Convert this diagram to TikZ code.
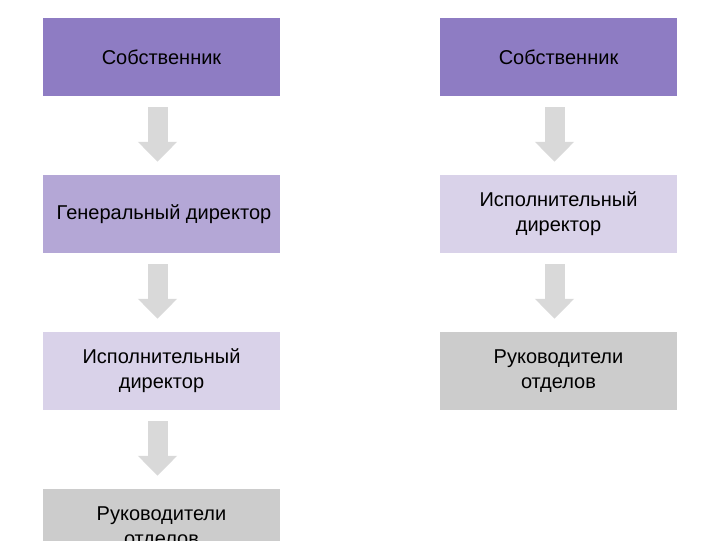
\documentclass[tikz,border=0pt]{standalone}
\usepackage{fontspec}
\setmainfont{Liberation Sans}
\usetikzlibrary{arrows.meta}
\definecolor{c1}{HTML}{8E7CC3}
\definecolor{c2}{HTML}{B4A7D6}
\definecolor{c3}{HTML}{D9D2E9}
\definecolor{c4}{HTML}{CCCCCC}
\definecolor{ca}{HTML}{D9D9D9}
\tikzset{
  box/.style={minimum width=237pt,minimum height=78pt,inner sep=0pt,align=center,font=\fontsize{20}{25}\selectfont},
  blk/.style={draw=ca,line width=20pt,-{Triangle[width=38pt,length=20pt]}}
}
\begin{document}
\begin{tikzpicture}[x=1pt,y=-1pt]
\useasboundingbox (0,0) rectangle (711,540);
\node[box,fill=c1] (l1) at (161.5,57) {Собственник};
\node[box,fill=c2] (l2) at (161.5,214) {\hspace{5pt}Генеральный директор};
\node[box,fill=c3] (l3) at (161.5,371) {Исполнительный\\директор};
\node[box,fill=c4] (l4) at (161.5,528) {Руководители\\отделов};
\node[box,fill=c1] (r1) at (558.5,57) {Собственник};
\node[box,fill=c3] (r2) at (558.5,214) {Исполнительный\\директор};
\node[box,fill=c4] (r3) at (558.5,371) {Руководители\\отделов};
\foreach \a/\b in {l1/l2,l2/l3,l3/l4,r1/r2,r2/r3}
  \draw[blk] ([xshift=-4pt,yshift=-11pt]\a.south) -- ([xshift=-4pt,yshift=13pt]\b.north);
\end{tikzpicture}
\end{document}
